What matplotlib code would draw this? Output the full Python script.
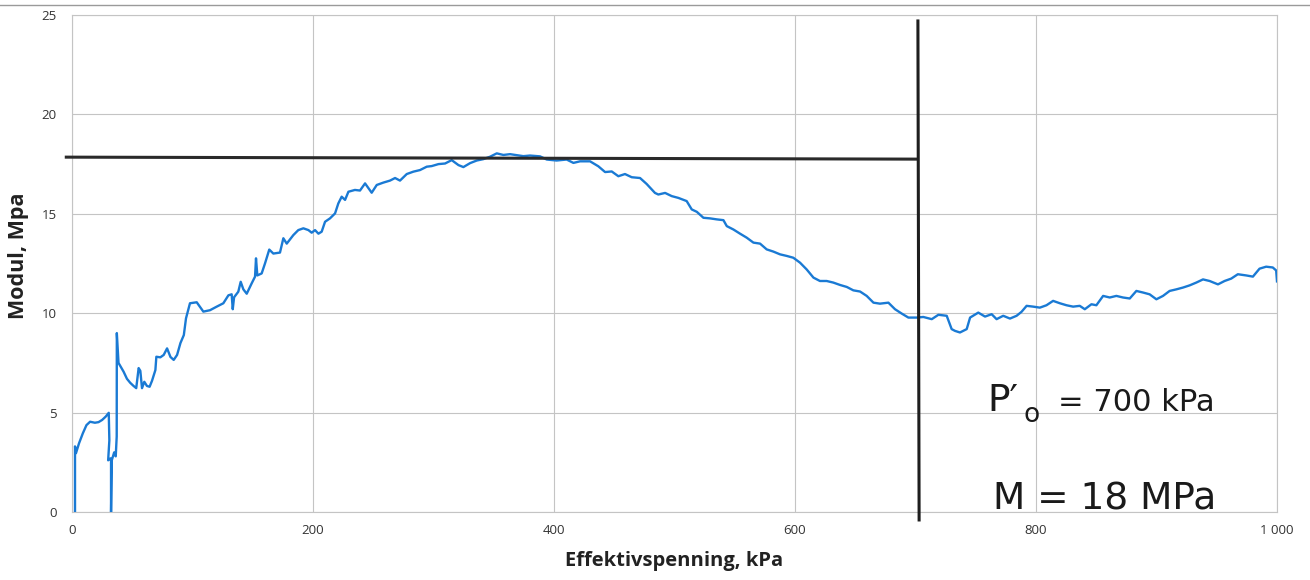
import matplotlib
matplotlib.use("Agg")
import matplotlib.pyplot as plt
from matplotlib.lines import Line2D

# Effective stress (kPa) and constrained modulus (MPa) from the oedometer test
stress_kpa = [
    2.5, 2.5, 3.3, 5.8, 9.0, 12.0, 15.0, 19.0, 22.0, 25.0, 28.0, 30.5,
    31.0, 30.0, 32.0, 32.4, 32.4, 33.0, 35.0, 36.3, 36.8, 37.1, 37.2,
    38.6, 40.5, 42.8, 45.6, 48.3, 51.1, 53.3, 55.3, 56.7, 58.1, 60.0,
    62.2, 64.4, 66.4, 69.2, 70.0, 73.3, 76.1, 78.9, 81.7, 84.4, 87.2,
    90.0, 92.8, 94.6, 97.9, 103.5, 109.0, 114.5, 120.1, 125.6, 129.8,
    132.5, 133.4, 134.5, 138.0, 140.0, 142.2, 145.0, 149.1, 151.9, 152.7,
    153.8, 157.4, 160.2, 163.7, 167.1, 172.6, 175.4, 178.2, 183.7, 187.8,
    192.0, 196.2, 198.9, 201.7, 204.5, 207.2, 210.0, 214.1, 218.3, 221.0,
    223.8, 226.6, 229.4, 234.8, 239.0, 243.2, 248.7, 252.9, 258.4, 263.9,
    268.1, 272.2, 277.8, 283.3, 288.8, 294.4, 298.5, 304.1, 309.6, 315.1,
    320.7, 324.8, 330.4, 335.9, 341.4, 346.9, 352.5, 358.0, 363.5, 369.1,
    374.6, 380.1,
    388.4, 394.0, 402.2, 410.5, 416.1, 421.6, 429.9, 436.8, 442.4, 447.9,
    453.4, 458.9, 464.5, 471.4, 476.9, 483.8, 486.6, 492.2, 497.7, 503.2,
    510.1, 514.3, 518.5, 524.0, 529.5, 535.0, 540.6, 543.4, 548.9, 554.4,
    559.9, 565.5, 571.0, 576.5, 582.0, 587.6, 593.2, 598.6, 604.2, 609.7,
    615.3, 620.7, 626.3, 631.8, 637.4, 643.0, 648.4, 654.0, 659.5, 665.1,
    670.5, 677.5, 683.0, 688.6, 694.1, 701.0, 706.5, 713.5, 719.0,
    725.9, 730.0, 732.8, 736.9, 742.5, 745.3, 752.1, 757.7, 763.2, 767.3,
    772.8, 778.4, 783.9, 788.0, 792.2, 797.7, 803.2, 808.7, 814.2, 819.8,
    825.3, 830.8, 836.3, 840.5, 846.0, 850.1, 855.7, 861.2, 866.7, 872.2,
    877.8, 883.3, 888.8, 894.3, 899.9, 905.4, 910.9, 916.5, 922.0, 927.5,
    933.0, 938.6, 944.1, 951.0, 956.5, 962.0, 967.5, 974.4, 980.0, 985.5,
    991.0, 996.5, 999.3, 1000.0,
]
modulus_mpa = [
    0.0, 3.3, 2.96, 3.45, 3.96, 4.37, 4.54, 4.49, 4.52, 4.63, 4.8, 4.99,
    3.6, 2.6, 2.7, 2.6, 0.0, 2.6, 3.0, 2.8, 3.5, 3.8, 9.0,
    7.5, 7.3, 7.06, 6.7, 6.5, 6.34, 6.23, 7.24, 7.1, 6.23, 6.55,
    6.34, 6.3, 6.6, 7.14, 7.81, 7.78, 7.9, 8.23, 7.8, 7.65, 7.9,
    8.5, 8.9, 9.74, 10.5, 10.55, 10.08, 10.15, 10.33, 10.5, 10.9,
    10.95, 10.2, 10.8, 11.08, 11.58, 11.2, 10.98, 11.5, 11.84, 12.76,
    11.9, 12.0, 12.51, 13.2, 13.0, 13.05, 13.77, 13.5, 13.93, 14.18,
    14.27, 14.18, 14.05, 14.18, 14.0, 14.1, 14.6, 14.77, 15.02, 15.52,
    15.86, 15.7, 16.11, 16.2, 16.17, 16.53, 16.06, 16.45, 16.57, 16.67,
    16.8, 16.67, 17.0, 17.12, 17.2, 17.37, 17.4, 17.5, 17.53, 17.7,
    17.45, 17.35, 17.55, 17.68, 17.75, 17.87, 18.04, 17.96, 18.0, 17.95,
    17.9, 17.93,
    17.89, 17.73, 17.68, 17.73, 17.56, 17.64, 17.64, 17.39, 17.1, 17.13,
    16.89, 17.0, 16.84, 16.8, 16.5, 16.05, 15.97, 16.05, 15.89, 15.8,
    15.64, 15.22, 15.1, 14.8, 14.77, 14.72, 14.68, 14.38, 14.21, 14.0,
    13.8, 13.55, 13.5, 13.21, 13.1, 12.96, 12.88, 12.79, 12.54, 12.2,
    11.79, 11.62, 11.62, 11.54, 11.42, 11.32, 11.15, 11.09, 10.87, 10.53,
    10.48, 10.53, 10.2, 9.98, 9.78, 9.78, 9.81, 9.7, 9.92,
    9.87, 9.2, 9.11, 9.03, 9.2, 9.78, 10.03, 9.83, 9.95, 9.7,
    9.87, 9.73, 9.87, 10.07, 10.37, 10.33, 10.28, 10.4, 10.62, 10.5,
    10.4, 10.33, 10.37, 10.2, 10.45, 10.4, 10.87, 10.79, 10.87, 10.79,
    10.74, 11.12, 11.04, 10.95, 10.7, 10.87, 11.12, 11.2, 11.29, 11.4,
    11.54, 11.7, 11.62, 11.45, 11.62, 11.74, 11.96, 11.9, 11.84, 12.24,
    12.34, 12.3, 12.15, 11.6,
]

x_ticks = [0, 200, 400, 600, 800, 1000]
x_tick_labels = ["0", "200", "400", "600", "800", "1 000"]
y_ticks = [0, 5, 10, 15, 20, 25]

# Preconsolidation stress and modulus
p0_kpa = 700
m_line_mpa = [17.85, 17.75]
m_line_kpa = [-6, 702]

plt.rcParams["font.family"] = ["Open Sans", "DejaVu Sans"]

fig = plt.figure(figsize=(13.1, 5.8), dpi=100)
ax = fig.add_axes([72 / 1310, 68 / 580, 1205 / 1310, 497 / 580])

ax.plot(stress_kpa, modulus_mpa, color="#1a7ad4", lw=1.7, zorder=3,
        solid_joinstyle="round")

# Hand-drawn construction lines
ax.plot(m_line_kpa, m_line_mpa, color="#2a2a2a", lw=2.2, zorder=4,
        clip_on=False, solid_capstyle="butt")
ax.plot([p0_kpa + 2, p0_kpa + 3], [24.7, -0.4], color="#1e1e1e", lw=2.2,
        zorder=4, clip_on=False)

ax.set_xlim(0, 1000)
ax.set_ylim(0, 25)
ax.set_xticks(x_ticks)
ax.set_xticklabels(x_tick_labels)
ax.set_yticks(y_ticks)
ax.tick_params(axis="both", length=0, labelsize=9.5, colors="#333333")
ax.tick_params(axis="y", pad=11)
ax.tick_params(axis="x", pad=9)
ax.grid(True, color="#c4c4c4", lw=0.8)
for s in ax.spines.values():
    s.set_color("#c4c4c4")
    s.set_linewidth(0.8)

ax.set_xlabel("Effektivspenning, kPa", fontsize=14.5, fontweight="bold",
              color="#222222", labelpad=10)
ax.set_ylabel("Modul, Mpa", fontsize=15.5, fontweight="bold",
              color="#222222")
ax.yaxis.set_label_coords(-0.036, 0.515)

# Handwritten notes
note_kw = dict(color="#1a1a1a", family="DejaVu Sans", zorder=5)
ax.text(760, 5.1, "P\u2032", fontsize=27, **note_kw)
ax.text(790, 4.55, "o", fontsize=19, **note_kw)
ax.text(818, 5.1, "= 700 kPa", fontsize=22, **note_kw)
ax.text(764, 0.15, "M = 18 MPa", fontsize=27, **note_kw)

# Scanner edge along the top of the page
fig.add_artist(Line2D([0, 1], [1 - 5 / 580, 1 - 5 / 580], color="#9a9a9a",
                      lw=1.0, transform=fig.transFigure))

fig.savefig("out.png", dpi=100)
